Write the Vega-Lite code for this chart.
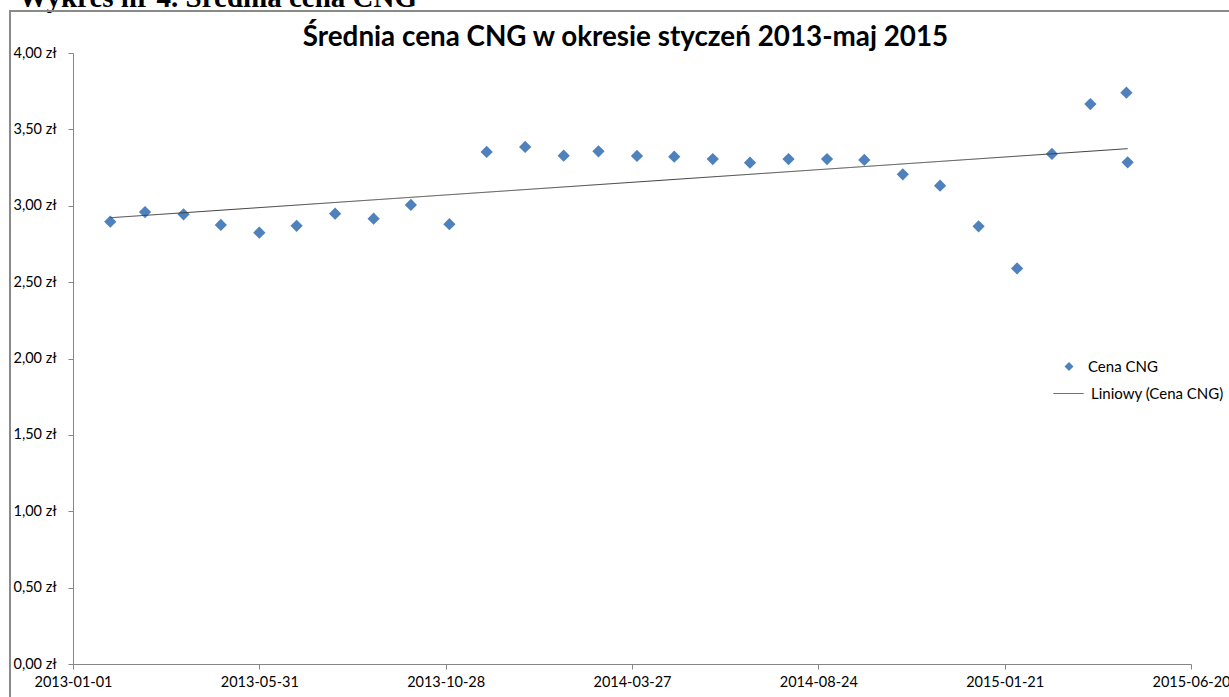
{
  "$schema": "https://vega.github.io/schema/vega-lite/v6.json",
  "autosize": {"type": "none"},
  "padding": {"left": 10, "top": 11, "right": -6, "bottom": -6},
  "width": 1225,
  "height": 692,
  "background": "white",
  "config": {"font": "Lato", "view": {"stroke": null, "fill": "white"}},
  "title": {
    "text": "Średnia cena CNG w okresie styczeń 2013-maj 2015",
    "frame": "group",
    "anchor": "middle",
    "font": "Lato",
    "fontSize": 27.8,
    "fontWeight": "bold",
    "color": "#000000",
    "baseline": "alphabetic",
    "offset": -91,
    "dx": 3
  },
  "datasets": {
    "cng": [
      {"date": "2013-01-31", "price": 2.896},
      {"date": "2013-02-28", "price": 2.959},
      {"date": "2013-03-31", "price": 2.944},
      {"date": "2013-04-30", "price": 2.874},
      {"date": "2013-05-31", "price": 2.824},
      {"date": "2013-06-30", "price": 2.869},
      {"date": "2013-07-31", "price": 2.948},
      {"date": "2013-08-31", "price": 2.915},
      {"date": "2013-09-30", "price": 3.005},
      {"date": "2013-10-31", "price": 2.879},
      {"date": "2013-11-30", "price": 3.352},
      {"date": "2013-12-31", "price": 3.385},
      {"date": "2014-01-31", "price": 3.328},
      {"date": "2014-02-28", "price": 3.356},
      {"date": "2014-03-31", "price": 3.326},
      {"date": "2014-04-30", "price": 3.321},
      {"date": "2014-05-31", "price": 3.306},
      {"date": "2014-06-30", "price": 3.282},
      {"date": "2014-07-31", "price": 3.306},
      {"date": "2014-08-31", "price": 3.306},
      {"date": "2014-09-30", "price": 3.300},
      {"date": "2014-10-31", "price": 3.206},
      {"date": "2014-11-30", "price": 3.131},
      {"date": "2014-12-31", "price": 2.865},
      {"date": "2015-01-31", "price": 2.590},
      {"date": "2015-02-28", "price": 3.339},
      {"date": "2015-03-31", "price": 3.666},
      {"date": "2015-04-29", "price": 3.740},
      {"date": "2015-04-30", "price": 3.284}
    ],
    "chartframe": [{"part": "chart area"}]
  },
  "layer": [
    {
      "data": {"name": "chartframe"},
      "mark": {"type": "rect", "fill": "transparent", "stroke": "#8a8a8a", "strokeWidth": 2, "strokeOpacity": 1, "x2Offset": 30, "y2Offset": 30},
      "encoding": {
        "x": {"value": 0},
        "x2": {"value": "width"},
        "y": {"value": 0},
        "y2": {"value": "height"}
      }
    },
    {
      "data": {"name": "cng", "format": {"parse": {"date": "date"}}},
      "mark": {"type": "point", "filled": true, "size": 150, "color": "#4F81BD", "opacity": 1, "strokeWidth": 0},
      "encoding": {
        "x": {
          "field": "date",
          "type": "temporal",
          "scale": {
            "type": "utc",
            "nice": false,
            "domain": [
              {"year": 2013, "month": 1, "date": 1, "utc": true},
              {"year": 2015, "month": 6, "date": 20, "utc": true}
            ],
            "range": [63, 1181]
          },
          "axis": {
            "title": null,
            "values": [
              {"year": 2013, "month": 1, "date": 1, "utc": true},
              {"year": 2013, "month": 5, "date": 31, "utc": true},
              {"year": 2013, "month": 10, "date": 28, "utc": true},
              {"year": 2014, "month": 3, "date": 27, "utc": true},
              {"year": 2014, "month": 8, "date": 24, "utc": true},
              {"year": 2015, "month": 1, "date": 21, "utc": true},
              {"year": 2015, "month": 6, "date": 20, "utc": true}
            ],
            "format": "%Y-%m-%d",
            "offset": -39,
            "tickSize": 5,
            "labelPadding": 6,
            "tickColor": "#868686",
            "domainColor": "#868686",
            "grid": false,
            "labelFont": "Lato",
            "labelFontSize": 14.5,
            "labelColor": "#000000",
            "labelOverlap": false,
            "labelFlush": false,
            "labelBound": false
          }
        },
        "y": {
          "field": "price",
          "type": "quantitative",
          "scale": {"domain": [0, 4], "range": [653, 42], "nice": false, "zero": false},
          "axis": {
            "title": "Wykres nr 4. Średnia cena CNG",
            "titleAngle": 0,
            "titleX": -55,
            "titleY": -5,
            "titleAlign": "left",
            "titleBaseline": "alphabetic",
            "titleFont": "Liberation Serif",
            "titleFontSize": 29,
            "titleFontWeight": "bold",
            "titleColor": "#000000",
            "values": [0, 0.5, 1, 1.5, 2, 2.5, 3, 3.5, 4],
            "labelExpr": "replace(format(datum.value, '.2f'), '.', ',') + ' zł'",
            "labelAlign": "left",
            "labelPadding": 55,
            "offset": -63,
            "tickSize": 5,
            "tickColor": "#868686",
            "domainColor": "#868686",
            "grid": false,
            "labelFont": "Lato",
            "labelFontSize": 14.5,
            "labelColor": "#000000"
          }
        },
        "shape": {
          "datum": "Cena CNG",
          "scale": {"range": ["diamond"]},
          "legend": {
            "orient": "none",
            "legendX": 1051.5,
            "legendY": 348,
            "title": null,
            "padding": 0,
            "symbolSize": 81,
            "symbolFillColor": "#4F81BD",
            "symbolStrokeWidth": 0,
            "labelFont": "Lato",
            "labelFontSize": 15,
            "labelColor": "#000000",
            "labelOffset": 11.5
          }
        }
      }
    },
    {
      "data": {"name": "cng", "format": {"parse": {"date": "date"}}},
      "transform": [{"regression": "price", "on": "date"}],
      "mark": {"type": "line", "color": "#404040", "strokeWidth": 1},
      "encoding": {
        "x": {"field": "date", "type": "temporal"},
        "y": {"field": "price", "type": "quantitative"},
        "strokeDash": {
          "datum": "Liniowy (Cena CNG)",
          "scale": {"range": [[1, 0]]},
          "legend": {
            "orient": "none",
            "legendX": 1043,
            "legendY": 367,
            "title": null,
            "padding": 0,
            "symbolType": "stroke",
            "symbolSize": 900,
            "symbolStrokeColor": "#404040",
            "symbolStrokeWidth": 1,
            "labelFont": "Lato",
            "labelFontSize": 15,
            "labelColor": "#000000",
            "labelOffset": 7
          }
        }
      }
    }
  ]
}
